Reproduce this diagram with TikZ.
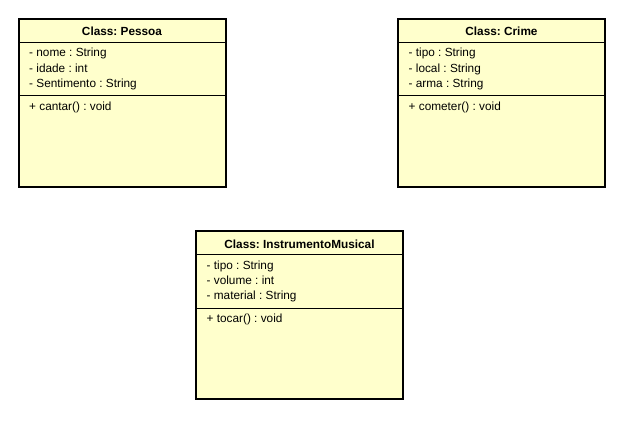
\documentclass[tikz,border=0pt]{standalone}
\usepackage{fontspec}
\setmainfont{Liberation Sans}
\frenchspacing
\definecolor{classfill}{HTML}{FFFFCC}
\tikzset{
  classbox/.style={draw=black, line width=2pt, fill=classfill, minimum width=207pt, minimum height=168pt, inner sep=0pt, outer sep=0pt, anchor=north west},
  divider/.style={draw=black, line width=1pt},
  titletext/.style={font=\fontsize{11.8}{14}\selectfont\bfseries, inner sep=0pt, anchor=base},
  membertext/.style={font=\fontsize{11.8}{14}\selectfont, inner sep=0pt, anchor=base west},
}
\newcommand\drawumlclass[8]{%
  \begin{scope}[shift={(#2,#3)}]
    \node[classbox] (#1) at (0,0) {};
    \draw[divider] (0,23.3) -- (207,23.3);
    \draw[divider] (0,77) -- (207,77);
    \node[titletext] (#1-title) at (103.5,17) {#4};
    \node[membertext] (#1-a1) at (10.5,38) {#5};
    \node[membertext] (#1-a2) at (10.5,53.3) {#6};
    \node[membertext] (#1-a3) at (10.5,68.3) {#7};
    \node[membertext] (#1-m1) at (10.5,91.7) {#8};
  \end{scope}%
}
\begin{document}
\begin{tikzpicture}[x=1pt,y=-1pt]
  \useasboundingbox (0,0) rectangle (629,422);
  \fill[white] (0,0) rectangle (629,422);
  \drawumlclass{pessoa}{18.5}{19}{Class: Pessoa}{- nome : String}{- idade : int}{- Sentimento : String}{+ cantar() : void}
  \drawumlclass{crime}{398}{19}{Class: Crime}{- tipo : String}{- local : String}{- arma : String}{+ cometer() : void}
  \drawumlclass{instrumento}{196}{231}{Class: InstrumentoMusical}{- tipo : String}{- volume : int}{- material : String}{+ tocar() : void}
\end{tikzpicture}
\end{document}
